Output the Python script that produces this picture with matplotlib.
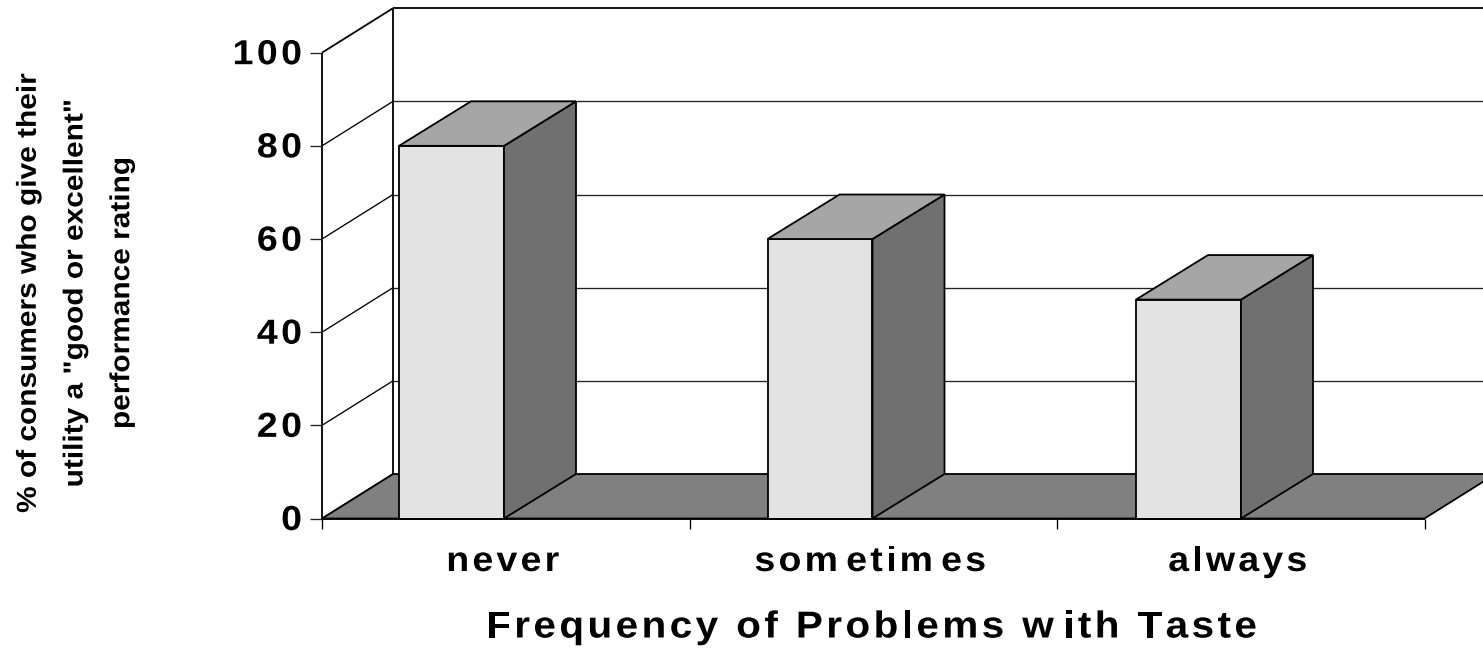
import matplotlib
matplotlib.use("Agg")
import matplotlib.pyplot as plt
from matplotlib import font_manager
from matplotlib.ft2font import LoadFlags
from matplotlib.patches import Polygon
from matplotlib.patheffects import AbstractPathEffect
from matplotlib.text import Text
from matplotlib.transforms import Affine2D, Bbox, IdentityTransform

categories = ["never", "sometimes", "always"]
values = [80, 60, 47]
y_ticks = [0, 20, 40, 60, 80, 100]
x_title = "Frequency of Problems with Taste"
y_title = '% of consumers who give their\nutility a "good or excellent"\nperformance rating'

W, H = 1483, 650
plt.rcParams["font.family"] = ["Liberation Sans", "DejaVu Sans"]


class StretchX(AbstractPathEffect):
    """Scale glyphs horizontally on screen about the text anchor."""
    def __init__(self, sx):
        super().__init__()
        self.sx = sx

    def draw_path(self, renderer, gc, tpath, affine, rgbFace=None):
        ox = affine.transform((0, 0))[0]
        tr = affine + Affine2D().translate(-ox, 0).scale(self.sx, 1).translate(ox, 0)
        renderer.draw_path(gc, tpath, tr, rgbFace)


class TrackedText(Text):
    """One text string, drawn wide and letter-spaced like the source chart."""
    def __init__(self, x, y, s, sx=1.0, tracking=0.0, extra=None, **kw):
        super().__init__(x, y, s, **kw)
        self._sx, self._tracking, self._extra = sx, tracking, extra or {}

    def _advances(self):
        fp = self.get_fontproperties()
        font = font_manager.get_font(font_manager.findfont(fp))
        font.set_size(fp.get_size_in_points(), self.figure.dpi)
        out = []
        for c in self.get_text():
            g = font.load_char(ord(c), flags=LoadFlags.NO_HINTING)
            out.append(g.linearHoriAdvance / 65536 * self._sx + self._tracking + self._extra.get(c, 0))
        return out

    def _start(self):
        adv = self._advances()
        total = sum(adv) - self._tracking - self._extra.get(self.get_text()[-1], 0)
        px, py = self.get_transform().transform(self.get_position())
        ha = self.get_ha()
        x0 = px - (total / 2 if ha == "center" else total if ha == "right" else 0)
        return x0, py, adv, total

    def draw(self, renderer):
        x, y, adv, _ = self._start()
        for c, a in zip(self.get_text(), adv):
            t = Text(x, y, c, transform=IdentityTransform(), ha="left", va="baseline",
                     fontproperties=self.get_fontproperties(), color=self.get_color(),
                     path_effects=[StretchX(self._sx)])
            t.set_figure(self.figure)
            t.draw(renderer)
            x += a

    def get_window_extent(self, renderer=None, dpi=None):
        x, y, _, total = self._start()
        size = self.get_fontproperties().get_size_in_points() * self.figure.dpi / 72
        return Bbox([[x, y - 0.22 * size], [x + total, y + 0.75 * size]])


fig = plt.figure(figsize=(W / 100, H / 100), dpi=100, facecolor="white")

L, R, T, B = 322, 1424.5, 52.7, 518.5
ax = fig.add_axes([L / W, 1 - B / H, (R - L) / W, (B - T) / H])
ax.set_xlim(0, 3)
ax.set_ylim(0, 100)
ax.patch.set_visible(False)
for s in ax.spines.values():
    s.set_visible(False)
ax.set_xticks([])
ax.set_yticks([])

ux = (R - L) / 3
uy = (B - T) / 100
dx = 71 / ux
dy = 44.5 / uy
xmax = 3 + dx

thin, thick = 0.95, 1.3


def poly(pts, fc, z, lw=thin):
    ax.add_patch(Polygon(pts, closed=True, fc=fc, ec="black", lw=lw, clip_on=False,
                         zorder=z, joinstyle="miter"))


def line(xs, ys, z=2, lw=thin, color="black"):
    ax.plot(xs, ys, color=color, lw=lw, clip_on=False, zorder=z, solid_capstyle="butt")


# floor
poly([(0, 0), (dx, dy), (xmax, dy), (3, 0)], "#808080", 1, thick)
# walls and gridlines
line([dx, dx], [dy, 100 + dy], lw=thick)
line([0, 0], [0, 100], lw=thick)
line([0, 3], [0, 0], 5, lw=thick)
for v in y_ticks:
    line([0, dx], [v, v + dy], lw=thick if v == 100 else thin)
    if v > 0:
        line([dx, xmax], [v + dy, v + dy], lw=thick if v == 100 else thin,
             color="black" if v == 100 else "#222222")
    line([-12 / ux, 0], [v, v], color="#222222")
for i in range(4):
    line([i, i], [0, -10 / uy])

# bars
offset = 77 / ux
bw = 105 / ux
step = 368.5 / ux
bar_dx = 72 / ux
for i, v in enumerate(values):
    x0 = i * step + offset
    x1 = x0 + bw
    poly([(x0, 0), (x1, 0), (x1, v), (x0, v)], "#E3E3E3", 4, thick)
    poly([(x1, 0), (x1 + bar_dx, dy), (x1 + bar_dx, v + dy), (x1, v)], "#707070", 4, thick)
    poly([(x0, v), (x1, v), (x1 + bar_dx, v + dy), (x0 + bar_dx, v + dy)], "#A6A6A6", 4, thick)
    ax.add_artist(TrackedText(i + 0.5 - 3 / ux, -52.5 / uy, categories[i], sx=1.08, tracking=3.2,
                              extra={"m": 5}, ha="center", fontsize=25, fontweight="bold",
                              clip_on=False))

for v in y_ticks:
    ax.add_artist(TrackedText(-20 / ux, v - 11.5 / uy, str(v), sx=1.08, tracking=3.4, ha="right",
                              fontsize=25, fontweight="bold", clip_on=False))

fig.add_artist(TrackedText(871.5 / W, 1 - 637.5 / H, x_title, sx=1.08, tracking=3.4,
                           extra={"w": 6}, ha="center", fontsize=27, fontweight="bold",
                           transform=fig.transFigure))

fig.text(74.5 / W, 1 - 293 / H, y_title, rotation=90, ha="center", va="center", fontsize=21.5,
         fontweight="bold", linespacing=1.85, multialignment="center",
         path_effects=[StretchX(0.92)])

fig.savefig("out.png", dpi=100, facecolor="white")
